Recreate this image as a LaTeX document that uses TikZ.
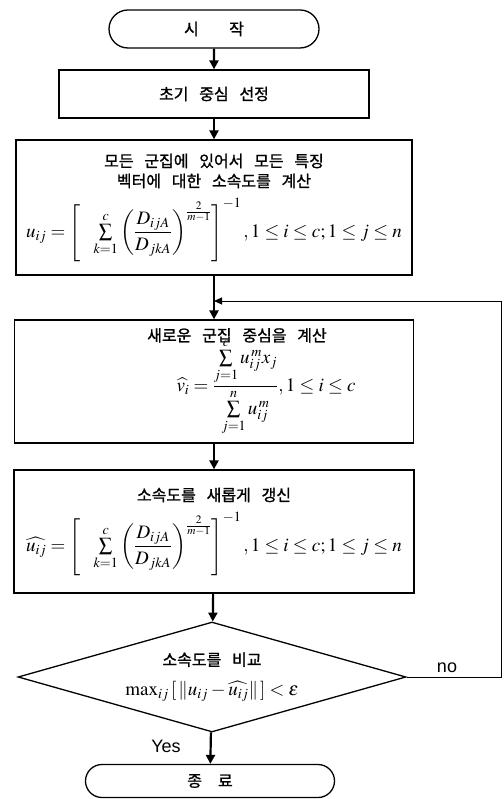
\documentclass[tikz,border=0pt]{standalone}
\usepackage{amsmath}
\usepackage{mathptmx}
\usepackage{fontspec}
\newfontfamily\kor{Noto Sans CJK KR}[WordSpace=3,FakeBold=1.2]
\newfontfamily\arial{Liberation Sans}
\newcommand\bigmath{\fontsize{19}{22}\selectfont}
\usetikzlibrary{arrows.meta,shapes.misc,shapes.geometric}

\begin{document}
\begin{tikzpicture}[x=1pt,y=-1pt,
    box/.style={draw, line width=1.3pt, inner sep=0pt, align=center,
        font=\kor\fontsize{16}{20}\selectfont},
    term/.style={draw, rounded rectangle, line width=1.3pt, inner sep=0pt,
        font=\kor\fontsize{16}{18}\selectfont},
    flow/.style={line width=2.2pt, -{Triangle[length=9pt,width=9pt]}},
    back/.style={line width=1pt, -{Triangle[length=8pt,width=7pt]}},
    tag/.style={font=\arial\fontsize{18}{20}\selectfont}]
    \useasboundingbox (0,0) rectangle (503,799);
    \node[term, minimum width=210pt, minimum height=38pt] (start) at (214,29) {시\hspace{1.9em}작};
    \node[box, minimum width=310pt, minimum height=48pt] (init) at (214,94) {초기 중심 선정};
    \node[box, minimum width=396pt, minimum height=135pt] (memb) at (214,207.5)
        {모든 군집에 있어서 모든 특징\\벡터에 대한 소속도를 계산\\[9pt]
        \bigmath$u_{ij}=\left[\ \sum\limits_{k=1}^{c}\left(\dfrac{D_{ijA}}{D_{jkA}}\right)^{\frac{2}{m-1}}\right]^{-1}, 1\le i\le c; 1\le j\le n$};
    \node[box, minimum width=399pt, minimum height=123pt] (cent) at (214,381.5)
        {\hspace*{46pt}새로운 군집 중심을 계산\\[-5pt]
        \hspace*{104pt}\bigmath$\widehat{v_i}=\dfrac{\sum\limits_{j=1}^{c}u_{ij}^{\,m}x_j}{\sum\limits_{j=1}^{n}u_{ij}^{\,m}}, 1\le i\le c$};
    \node[box, minimum width=400pt, minimum height=123pt] (upd) at (214,531.5)
        {소속도를 새롭게 갱신\\[9pt]
        \bigmath$\widehat{u_{ij}}=\left[\ \sum\limits_{k=1}^{c}\left(\dfrac{D_{ijA}}{D_{jkA}}\right)^{\frac{2}{m-1}}\right]^{-1}, 1\le i\le c; 1\le j\le n$};
    \node[box, diamond, aspect=3.5, minimum width=388pt, minimum height=110pt] (cmp) at (212,677)
        {소속도를 비교\\[10pt]
        \bigmath$\max_{ij}\left[\,\|u_{ij}-\widehat{u_{ij}}\|\,\right]<\epsilon$};
    \node[term, minimum width=249pt, minimum height=33pt] (stop) at (210,781) {종\hspace{1em}료};
    \node[tag] (yes) at (166,746) {Yes};
    \node[tag] (no) at (447,668) {no};
    \coordinate (loop) at (501,301);
    \coordinate (join) at (memb.south |- loop);
    \draw[flow] (start) -- (init);
    \draw[flow] (init) -- (memb);
    \draw[flow] (memb) -- (cent);
    \draw[flow] (cent) -- (upd);
    \draw[flow] (upd) -- (cmp);
    \draw[flow] (cmp) -- (stop);
    \draw[back] (cmp.east) -- (cmp.east -| loop) -- (loop) -- (join);
\end{tikzpicture}
\end{document}
